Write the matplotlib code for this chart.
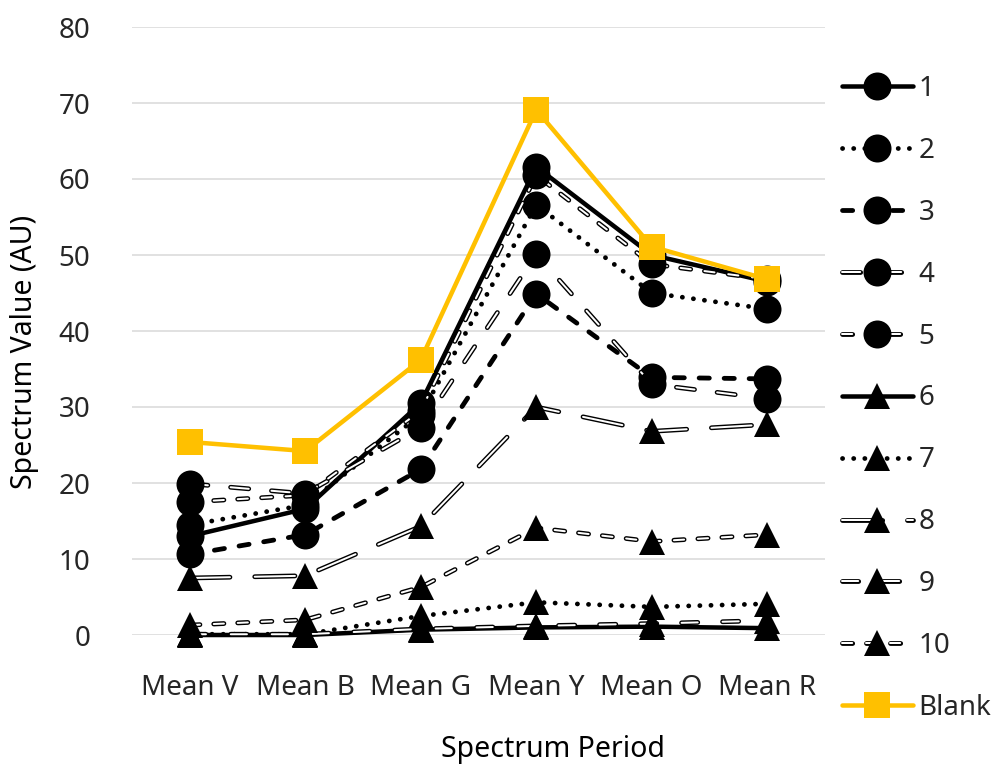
import matplotlib
matplotlib.use("Agg")
import matplotlib.pyplot as plt
from matplotlib.legend_handler import HandlerTuple

plt.rcParams['font.family'] = ['Noto Sans', 'DejaVu Sans']
plt.rcParams['lines.scale_dashes'] = False

# ---- data -------------------------------------------------------------
categories = ["Mean V", "Mean B", "Mean G", "Mean Y", "Mean O", "Mean R"]
series_names = ["1", "2", "3", "4", "5", "6", "7", "8", "9", "10", "Blank"]

s1 = [13.0, 16.6, 30.5, 61.6, 50.0, 46.5]
s2 = [14.5, 17.1, 29.0, 56.6, 45.0, 42.9]
s3 = [10.6, 13.2, 21.8, 44.9, 33.9, 33.7]
s4 = [19.9, 18.6, 27.3, 50.1, 33.0, 31.1]
s5 = [17.5, 18.4, 29.5, 60.5, 48.8, 46.8]
s6 = [0.0, 0.0, 0.7, 1.0, 1.1, 0.9]
s7 = [0.1, 0.1, 2.5, 4.3, 3.7, 4.1]
s8 = [7.5, 7.8, 14.3, 30.0, 26.8, 27.7]
s9 = [0.1, 0.1, 0.8, 1.2, 1.5, 1.9]
s10 = [1.3, 2.0, 6.3, 14.1, 12.3, 13.2]
blank = [25.4, 24.2, 36.2, 69.1, 51.1, 46.8]

values = [s1, s2, s3, s4, s5, s6, s7, s8, s9, s10, blank]

# ---- styling ----------------------------------------------------------
PX = 0.72            # points per pixel at 100 dpi
LW_OUT = 4.8 * PX    # outer stroke of lines
LW_IN = 2.0 * PX     # white core of double lines
LW_SOLID = 4.5 * PX


def dash(visible, gap, lw_px=4.8):
    """Dash pattern (points) for round-capped strokes."""
    return (max(visible - lw_px, 0.1) * PX, (gap + lw_px) * PX)


DOT = (0.1, 11 * PX)

styles = [
    dict(kind="solid", marker="o"),
    dict(kind="dash", pattern=DOT, marker="o"),
    dict(kind="dash", pattern=dash(15, 10), marker="o"),
    dict(kind="double", pattern=dash(23, 18), marker="o"),
    dict(kind="double", pattern=dash(15, 9), marker="o"),
    dict(kind="solid", marker="^"),
    dict(kind="dash", pattern=DOT, marker="^"),
    dict(kind="double", pattern=dash(45, 20), marker="^"),
    dict(kind="double", pattern=dash(21, 20), marker="^"),
    dict(kind="double", pattern=dash(15, 9), marker="^"),
    dict(kind="solid", marker="s", color="#FFC000"),
]

MS = {"o": 28 * PX, "^": 27 * PX, "s": 27 * PX}

fig = plt.figure(figsize=(9.93, 7.69), dpi=100)
ax = fig.add_axes([132 / 993, 1 - 635 / 769, 693 / 993, 608 / 769])

x = list(range(len(categories)))
handles = []
for i, (vals, st) in enumerate(zip(values, styles)):
    z = 3 + i
    color = st.get("color", "black")
    parts = []
    if st["kind"] == "solid":
        ln, = ax.plot(x, vals, color=color, lw=LW_SOLID, solid_capstyle="round",
                      solid_joinstyle="round", zorder=z, clip_on=False)
        parts.append(ln)
    elif st["kind"] == "dash":
        ln, = ax.plot(x, vals, color=color, lw=LW_OUT, dashes=st["pattern"],
                      dash_capstyle="round", dash_joinstyle="round",
                      zorder=z, clip_on=False)
        parts.append(ln)
    else:
        outer, = ax.plot(x, vals, color="black", lw=LW_OUT, dashes=st["pattern"],
                         dash_capstyle="round", dash_joinstyle="round",
                         zorder=z, clip_on=False)
        inner, = ax.plot(x, vals, color="white", lw=LW_IN, dashes=st["pattern"],
                         dash_capstyle="round", dash_joinstyle="round",
                         zorder=z + 0.1, clip_on=False)
        parts += [outer, inner]
    mk, = ax.plot(x, vals, ls="none", marker=st["marker"], ms=MS[st["marker"]],
                  mew=0, color=color, zorder=z + 0.2, clip_on=False)
    parts.append(mk)
    handles.append(tuple(parts))

ax.set_xlim(-0.5, len(categories) - 0.5)
ax.set_ylim(0, 80)
ax.set_yticks(range(0, 81, 10))
ax.set_xticks(x)
ax.set_xticklabels(categories)
ax.grid(axis="y", color="#d9d9d9", lw=1.1)
ax.set_axisbelow(True)
for sp in ax.spines.values():
    sp.set_visible(False)
ax.tick_params(axis="both", length=0, labelsize=20, labelcolor="#262626")
ax.tick_params(axis="y", pad=30)
ax.tick_params(axis="x", pad=28)

fig.text(25 / 993, 1 - 352 / 769, "Spectrum Value (AU)", rotation=90,
         ha="center", va="center", fontsize=20.5, color="black")
fig.text(553 / 993, 1 - 750 / 769, "Spectrum Period",
         ha="center", va="center", fontsize=20.5, color="black")

fig.legend(handles, series_names,
           handler_map={tuple: HandlerTuple(ndivide=1, pad=0)},
           loc="upper left", bbox_to_anchor=(842 / 993, 1 - 75 / 769),
           frameon=False, fontsize=20, labelcolor="#262626",
           handlelength=2.55, handletextpad=0.2, labelspacing=1.22,
           borderpad=0, borderaxespad=0)

fig.savefig("out.png", dpi=100)
